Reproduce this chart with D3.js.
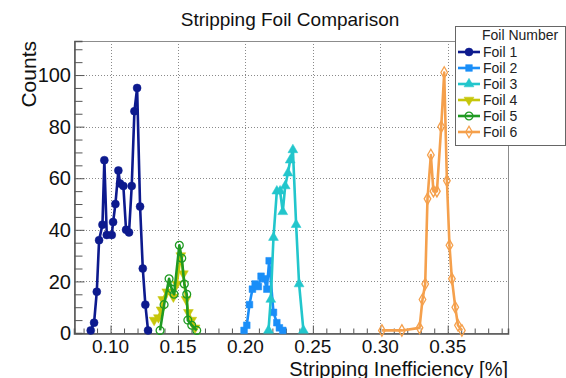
<!DOCTYPE html>
<html>
<head>
<meta charset="utf-8">
<script src="https://cdn.jsdelivr.net/npm/d3@7"></script>
<style>
  html, body { margin: 0; padding: 0; background: #fff; }
  svg text { font-family: 'Liberation Sans', Arial, sans-serif; }
</style>
</head>
<body>
<div id="chart"></div>
<script>
/* ===================================
   Stripping foil comparison (ROOT style)
   =================================== */

const TITLE = 'Stripping Foil Comparison';
const X_TITLE = 'Stripping Inefficiency [%]';
const Y_TITLE = 'Counts';
const LEGEND_TITLE = 'Foil Number';

const X_TICKS = [0.10, 0.15, 0.20, 0.25, 0.30, 0.35];
const X_TICK_LABELS = ['0.10', '0.15', '0.20', '0.25', '0.30', '0.35'];
const Y_TICKS = [0, 20, 40, 60, 80, 100];

// values
const foil1X = [0.0853, 0.0878, 0.0898, 0.0915, 0.0940, 0.0954, 0.0972, 0.1009, 0.1019, 0.1036, 0.1058, 0.1070,
                0.1095, 0.1115, 0.1137, 0.1157, 0.1177, 0.1197, 0.1219, 0.1239, 0.1258, 0.1278];
const foil1Y = [1, 4, 16, 36, 42, 67, 38, 38, 43, 50, 63, 58, 57, 40, 39, 57, 86, 95, 49, 25, 11, 1];

const foil2X = [0.1990, 0.2010, 0.2030, 0.2052, 0.2072, 0.2096, 0.2116, 0.2141, 0.2159, 0.2176, 0.2208, 0.2233, 0.2252, 0.2277];
const foil2Y = [1, 3, 11, 17, 19, 18, 22, 21, 17, 28, 8, 4, 2, 1];

const foil3X = [0.2171, 0.2188, 0.2208, 0.2233, 0.2257, 0.2277, 0.2295, 0.2315, 0.2332, 0.2352, 0.2376, 0.2398, 0.2430];
const foil3Y = [1, 13, 37, 55, 55, 47, 57, 62, 67, 71, 42, 19, 1];

const foil4X = [0.1323, 0.1355, 0.1375, 0.1387, 0.1417, 0.1466, 0.1491, 0.1521, 0.1540, 0.1560, 0.1577, 0.1602, 0.1627];
const foil4Y = [5, 6, 9, 13, 16, 14, 19, 30, 23, 13, 8, 5, 2];

const foil5X = [0.1367, 0.1397, 0.1434, 0.1454, 0.1471, 0.1510, 0.1528, 0.1547, 0.1565, 0.1573, 0.1602, 0.1639];
const foil5Y = [1, 11, 21, 17, 15, 34, 29, 19, 15, 5, 3, 1];

const foil6X = [0.3012, 0.3160, 0.3291, 0.3313, 0.3333, 0.3350, 0.3375, 0.3394, 0.3420, 0.3452, 0.3474,
                0.3494, 0.3513, 0.3531, 0.3556, 0.3576, 0.3605];
const foil6Y = [1, 1, 2, 13, 19, 52, 69, 55, 55, 80, 101, 59, 34, 21, 10, 3, 1];

const SERIES = [
    { label: 'Foil 1', xs: foil1X, ys: foil1Y, color: '#0d1a8e', symbol: d3.symbolCircle, size: 50, fill: true, rot: 0 },
    { label: 'Foil 2', xs: foil2X, ys: foil2Y, color: '#1a8ef8', symbol: d3.symbolSquare, size: 45, fill: true, rot: 0 },
    { label: 'Foil 3', xs: foil3X, ys: foil3Y, color: '#22c6cc', symbol: d3.symbolTriangle, size: 42, fill: true, rot: 0 },
    { label: 'Foil 4', xs: foil4X, ys: foil4Y, color: '#c6c60a', symbol: d3.symbolTriangle, size: 42, fill: true, rot: 180 },
    { label: 'Foil 5', xs: foil5X, ys: foil5Y, color: '#1f9a22', symbol: d3.symbolCircle, size: 48, fill: false, rot: 0 },
    { label: 'Foil 6', xs: foil6X, ys: foil6Y, color: '#f5a04c', symbol: d3.symbolDiamond, size: 38, fill: false, rot: 0 }
];

const width = 566;
const height = 378;
const frame = { left: 74, right: 508, top: 41, bottom: 333 };

const svg = d3.select('#chart')
    .append('svg')
    .attr('width', width)
    .attr('height', height);

svg.append('rect').attr('width', width).attr('height', height).attr('fill', '#fff');

const x = d3.scaleLinear().domain([0.0729, 0.3947]).range([frame.left, frame.right]);
const y = d3.scaleLinear().domain([0, 113.2]).range([frame.bottom, frame.top]);

// grid (dotted)
const grid = svg.append('g').attr('stroke', '#8a8a8a').attr('stroke-width', 1).attr('stroke-dasharray', '1,2');
X_TICKS.forEach(t => {
    grid.append('line')
        .attr('x1', Math.round(x(t)) + 0.5).attr('x2', Math.round(x(t)) + 0.5)
        .attr('y1', frame.top).attr('y2', frame.bottom);
});
Y_TICKS.filter(t => t > 0).forEach(t => {
    grid.append('line')
        .attr('x1', frame.left).attr('x2', frame.right)
        .attr('y1', Math.round(y(t)) + 0.5).attr('y2', Math.round(y(t)) + 0.5);
});

// frame
svg.append('rect')
    .attr('x', frame.left + 0.5).attr('y', frame.top + 0.5)
    .attr('width', frame.right - frame.left).attr('height', frame.bottom - frame.top)
    .attr('fill', 'none').attr('stroke', '#8c8c8c');

// axes: ticks point into the frame
const xAxis = d3.axisBottom(x)
    .tickValues(d3.range(0.08, 0.3901, 0.01))
    .tickSize(-5)
    .tickFormat('');
const xg = svg.append('g').attr('transform', `translate(0,${frame.bottom + 0.5})`).call(xAxis);
xg.selectAll('.tick line')
    .filter(d => X_TICKS.some(t => Math.abs(t - d) < 1e-6))
    .attr('y2', -8);

const yAxis = d3.axisLeft(y)
    .tickValues(d3.range(0, 111, 5))
    .tickSize(-8)
    .tickFormat('');
const yg = svg.append('g').attr('transform', `translate(${frame.left + 0.5},0)`).call(yAxis);
yg.selectAll('.tick line')
    .filter(d => d % 20 === 0)
    .attr('x2', 10);

[xg, yg].forEach(g => {
    g.select('.domain').attr('stroke', '#555').attr('stroke-width', 1.5);
    g.selectAll('.tick line').attr('stroke', '#555');
});

// tick labels
X_TICKS.forEach((t, i) => {
    svg.append('text')
        .attr('x', x(t)).attr('y', 353)
        .attr('text-anchor', 'middle')
        .style('font-size', '19px')
        .attr('fill', '#111')
        .text(X_TICK_LABELS[i]);
});
Y_TICKS.forEach(t => {
    svg.append('text')
        .attr('x', 71).attr('y', y(t))
        .attr('dy', '0.36em')
        .attr('text-anchor', 'end')
        .style('font-size', '20px')
        .attr('fill', '#111')
        .text(t);
});

// titles
svg.append('text')
    .attr('x', 290).attr('y', 26)
    .attr('text-anchor', 'middle')
    .style('font-size', '19px')
    .attr('fill', '#111')
    .text(TITLE);

svg.append('text')
    .attr('x', frame.right).attr('y', 375.5)
    .attr('text-anchor', 'end')
    .style('font-size', '20px')
    .attr('fill', '#111')
    .text(X_TITLE);

svg.append('text')
    .attr('transform', `translate(36,${frame.top}) rotate(-90)`)
    .attr('text-anchor', 'end')
    .style('font-size', '21px')
    .attr('fill', '#111')
    .text(Y_TITLE);

// series
const plot = svg.append('g');
const line = d3.line().x(d => x(d[0])).y(d => y(d[1]));

function drawMarker(g, s, px, py) {
    g.append('path')
        .attr('d', d3.symbol().type(s.symbol).size(s.size)())
        .attr('transform', `translate(${px},${py}) rotate(${s.rot})`)
        .attr('fill', s.fill ? s.color : 'none')
        .attr('stroke', s.color)
        .attr('stroke-width', s.fill ? 0.5 : 1.3);
}

SERIES.forEach(s => {
    const pts = s.xs.map((v, i) => [v, s.ys[i]]);
    const g = plot.append('g');
    g.append('path')
        .datum(pts)
        .attr('d', line)
        .attr('fill', 'none')
        .attr('stroke', s.color)
        .attr('stroke-width', 2.6)
        .attr('stroke-linejoin', 'round');
    pts.forEach(p => drawMarker(g, s, x(p[0]), y(p[1])));
});

// legend (top right, overlaps the frame)
const legend = svg.append('g');
legend.append('rect')
    .attr('x', 455.5).attr('y', 26.5)
    .attr('width', 110).attr('height', 119)
    .attr('fill', '#fff')
    .attr('stroke', '#666');

legend.append('text')
    .attr('x', 482).attr('y', 40)
    .style('font-size', '14px')
    .attr('fill', '#222')
    .text(LEGEND_TITLE);

SERIES.forEach((s, i) => {
    const ly = 56 + i * 16;
    const item = legend.append('g');
    item.append('line')
        .attr('x1', 458).attr('x2', 480)
        .attr('y1', ly - 4).attr('y2', ly - 4)
        .attr('stroke', s.color)
        .attr('stroke-width', 2.6);
    drawMarker(item, s, 469, ly - 4);
    item.append('text')
        .attr('x', 483).attr('y', ly + 1)
        .style('font-size', '14px')
        .attr('fill', '#222')
        .text(s.label);
});
</script>
</body>
</html>
